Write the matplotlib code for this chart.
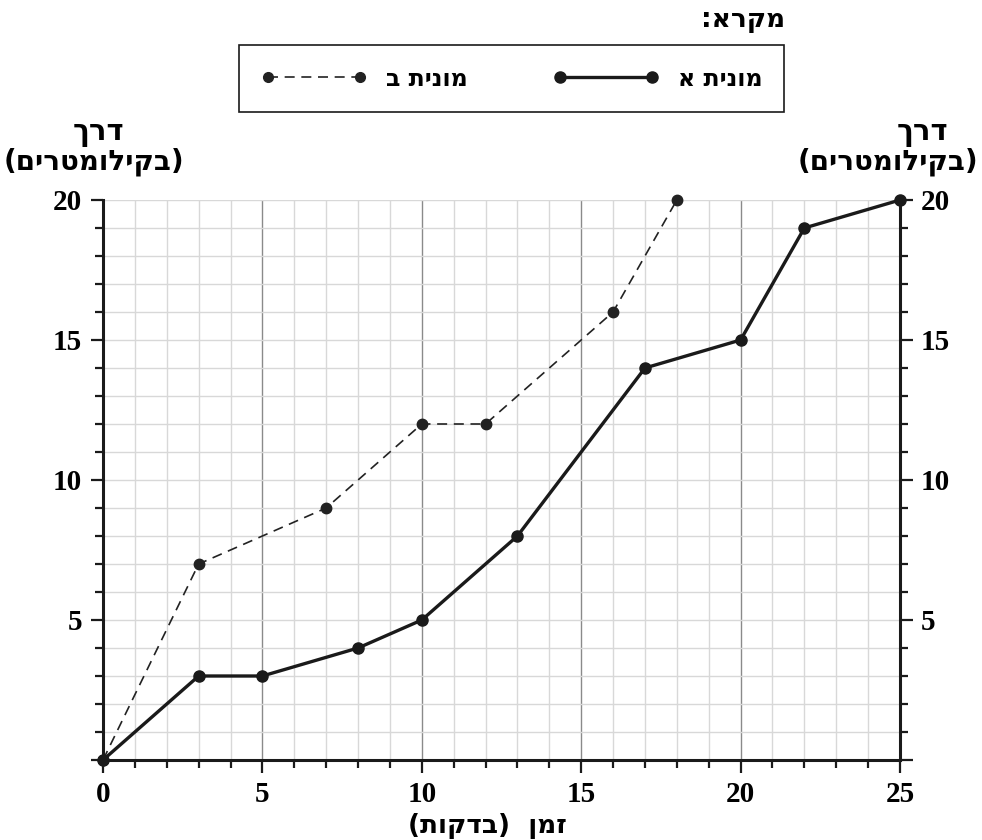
import matplotlib
matplotlib.use('Agg')
import matplotlib.pyplot as plt
from matplotlib.ticker import MultipleLocator, FuncFormatter
from matplotlib.lines import Line2D

# data
time_a = [0, 3, 5, 8, 10, 13, 17, 20, 22, 25]
dist_a = [0, 3, 3, 4, 5, 8, 14, 15, 19, 20]
time_b = [0, 3, 7, 10, 12, 16, 18]
dist_b = [0, 7, 9, 12, 12, 16, 20]

label_a = 'מונית א'
label_b = 'מונית ב'
legend_title = 'מקרא:'
y_title = 'דרך'
y_unit = '(בקילומטרים)'
x_title = 'זמן  (בדקות)'


def heb(s):
    # matplotlib has no bidi support, so lay the text out visually by hand
    return s[::-1].translate(str.maketrans('()', ')('))


heb_font = ['DejaVu Sans']
num_font = ['Liberation Serif', 'DejaVu Serif']

fig = plt.figure(figsize=(9.82, 8.4), dpi=100)
ax = fig.add_axes([103 / 982, 80 / 840, 797 / 982, 560 / 840])

ax.set_xlim(0, 25)
ax.set_ylim(0, 20)

ax.xaxis.set_major_locator(MultipleLocator(5))
ax.xaxis.set_minor_locator(MultipleLocator(1))
ax.yaxis.set_major_locator(MultipleLocator(5))
ax.yaxis.set_minor_locator(MultipleLocator(1))

ax.set_axisbelow(True)
ax.grid(which='minor', color='#d8d8d8', lw=1.0)
ax.grid(which='major', axis='y', color='#d8d8d8', lw=1.0)
ax.grid(which='major', axis='x', color='#8a8a8a', lw=1.0)

ax.plot(time_b, dist_b, color='#222222', lw=1.2, ls=(0, (6, 4)),
        marker='o', ms=7.5, mfc='#222222', mec='#222222', clip_on=False, zorder=3)
ax.plot(time_a, dist_a, color='#1a1a1a', lw=2.4, ls='-',
        marker='o', ms=8, mfc='#1a1a1a', mec='#1a1a1a', clip_on=False, zorder=4)

ax.spines['top'].set_visible(False)
for side in ['left', 'right', 'bottom']:
    ax.spines[side].set_linewidth(2.2)
    ax.spines[side].set_color('#1a1a1a')

ax.tick_params(which='both', direction='out', color='#1a1a1a', width=1.6,
               left=True, right=True, labelleft=True, labelright=True, top=False)
ax.tick_params(which='major', length=9, pad=6, labelsize=21)
ax.tick_params(which='minor', length=6)

ax.yaxis.set_major_formatter(FuncFormatter(lambda v, p: '' if v == 0 else '%d' % v))
for t in ax.xaxis.get_majorticklabels() + ax.yaxis.get_majorticklabels():
    t.set_fontweight('bold')
    t.set_family(num_font)

# axis titles
bold = dict(family=heb_font, fontweight='bold')
fig.text(98 / 982, 1 - 133 / 840, heb(y_title), ha='center', va='center', fontsize=21, **bold)
fig.text(94 / 982, 1 - 162 / 840, heb(y_unit), ha='center', va='center', fontsize=20, **bold)
fig.text(922 / 982, 1 - 133 / 840, heb(y_title), ha='center', va='center', fontsize=21, **bold)
fig.text(888 / 982, 1 - 162 / 840, heb(y_unit), ha='center', va='center', fontsize=20, **bold)
fig.text(487 / 982, 1 - 826 / 840, heb(x_title), ha='center', va='center', fontsize=19, **bold)

# legend
fig.text(785 / 982, 1 - 20 / 840, heb(legend_title), ha='right', va='center', fontsize=19, **bold)
handles = [
    Line2D([], [], color='#222222', lw=1.2, ls=(0, (6, 4)), marker='o', ms=7),
    Line2D([], [], color='#1a1a1a', lw=2.4, ls='-', marker='o', ms=8),
]
leg = fig.legend(handles, [heb(label_b), heb(label_a)], ncol=2, numpoints=2,
                 loc='center', bbox_to_anchor=(511.5 / 982, 1 - 78.5 / 840),
                 prop={'family': heb_font, 'weight': 'bold', 'size': 17},
                 handlelength=4.5, handletextpad=0.8, columnspacing=3.6,
                 borderpad=0.9, fancybox=False, edgecolor='#1a1a1a', framealpha=1)
leg.get_frame().set_linewidth(1.2)

fig.savefig('out.png', dpi=100)
